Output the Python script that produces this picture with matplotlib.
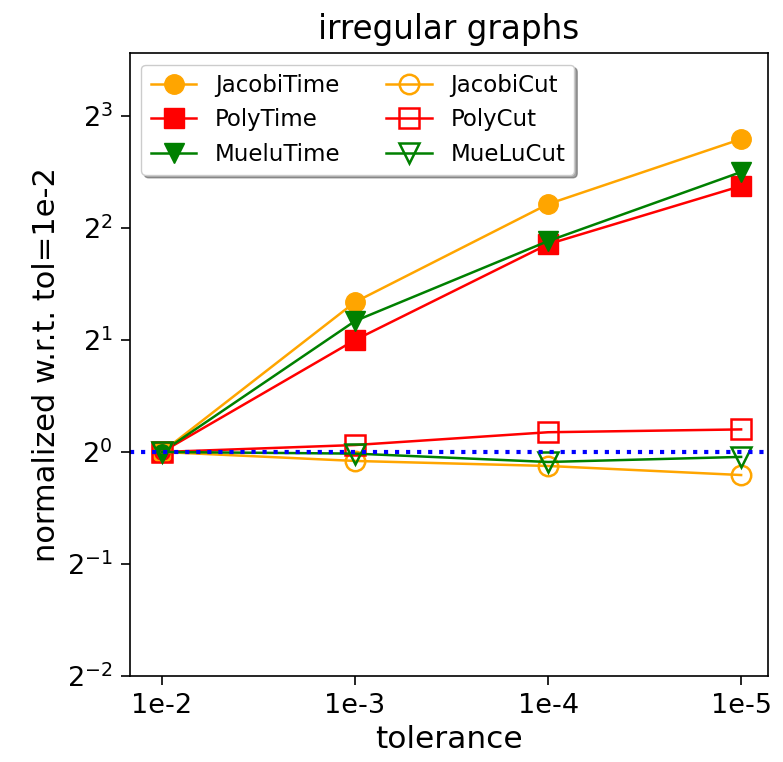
import numpy as np
import matplotlib
matplotlib.use("Agg")
import matplotlib.pyplot as plt

# tolerances on the x axis
tols = ["1e-2", "1e-3", "1e-4", "1e-5"]

# values normalized w.r.t. tol=1e-2
jacobi_time = [1.0, 2.53, 4.64, 6.94]
poly_time = [1.0, 2.0, 3.62, 5.19]
muelu_time = [1.0, 2.25, 3.69, 5.66]
jacobi_cut = [1.0, 0.946, 0.917, 0.867]
poly_cut = [1.0, 1.044, 1.13, 1.15]
muelu_cut = [1.0, 0.99, 0.94, 0.97]

x = np.arange(len(tols))

plt.rcParams["axes.linewidth"] = 1.2
for ax_name in ("xtick", "ytick"):
    plt.rcParams[ax_name + ".major.size"] = 6.5
    plt.rcParams[ax_name + ".major.width"] = 1.2
    plt.rcParams[ax_name + ".major.pad"] = 6

fig = plt.figure(figsize=(7.83, 7.62), dpi=100)
ax = fig.add_axes([0.166, 0.113, 0.815, 0.817])

ms = 14
lw = 1.8
ax.plot(x, jacobi_time, color="orange", marker="o", ms=ms, lw=lw, label="JacobiTime")
ax.plot(x, poly_time, color="red", marker="s", ms=ms, lw=lw, label="PolyTime")
ax.plot(x, muelu_time, color="green", marker="v", ms=ms, lw=lw, label="MueluTime")
ax.plot(x, jacobi_cut, color="orange", marker="o", ms=ms, lw=lw, mfc="none", mew=1.8, label="JacobiCut")
ax.plot(x, poly_cut, color="red", marker="s", ms=ms, lw=lw, mfc="none", mew=1.8, label="PolyCut")
ax.plot(x, muelu_cut, color="green", marker="v", ms=ms, lw=lw, mfc="none", mew=1.8, label="MueLuCut")
ax.axhline(1.0, color="blue", ls=":", lw=3)

ax.set_yscale("log", base=2)
ax.set_ylim(0.25, 11.8)
ax.set_yticks([0.25, 0.5, 1, 2, 4, 8])
ax.set_xlim(-0.166, 3.14)
ax.set_xticks(x)
ax.set_xticklabels(tols)
ax.tick_params(labelsize=19.5)
ax.minorticks_off()

ax.set_xlabel("tolerance", fontsize=22.5)
ax.set_ylabel("normalized w.r.t. tol=1e-2", fontsize=22)
ax.set_title("irregular graphs", fontsize=23.5, pad=10)

ax.legend(loc="upper left", ncol=2, fontsize=16.5, shadow=True, fancybox=True,
          borderaxespad=0.5)

fig.savefig("out.png", dpi=100)
